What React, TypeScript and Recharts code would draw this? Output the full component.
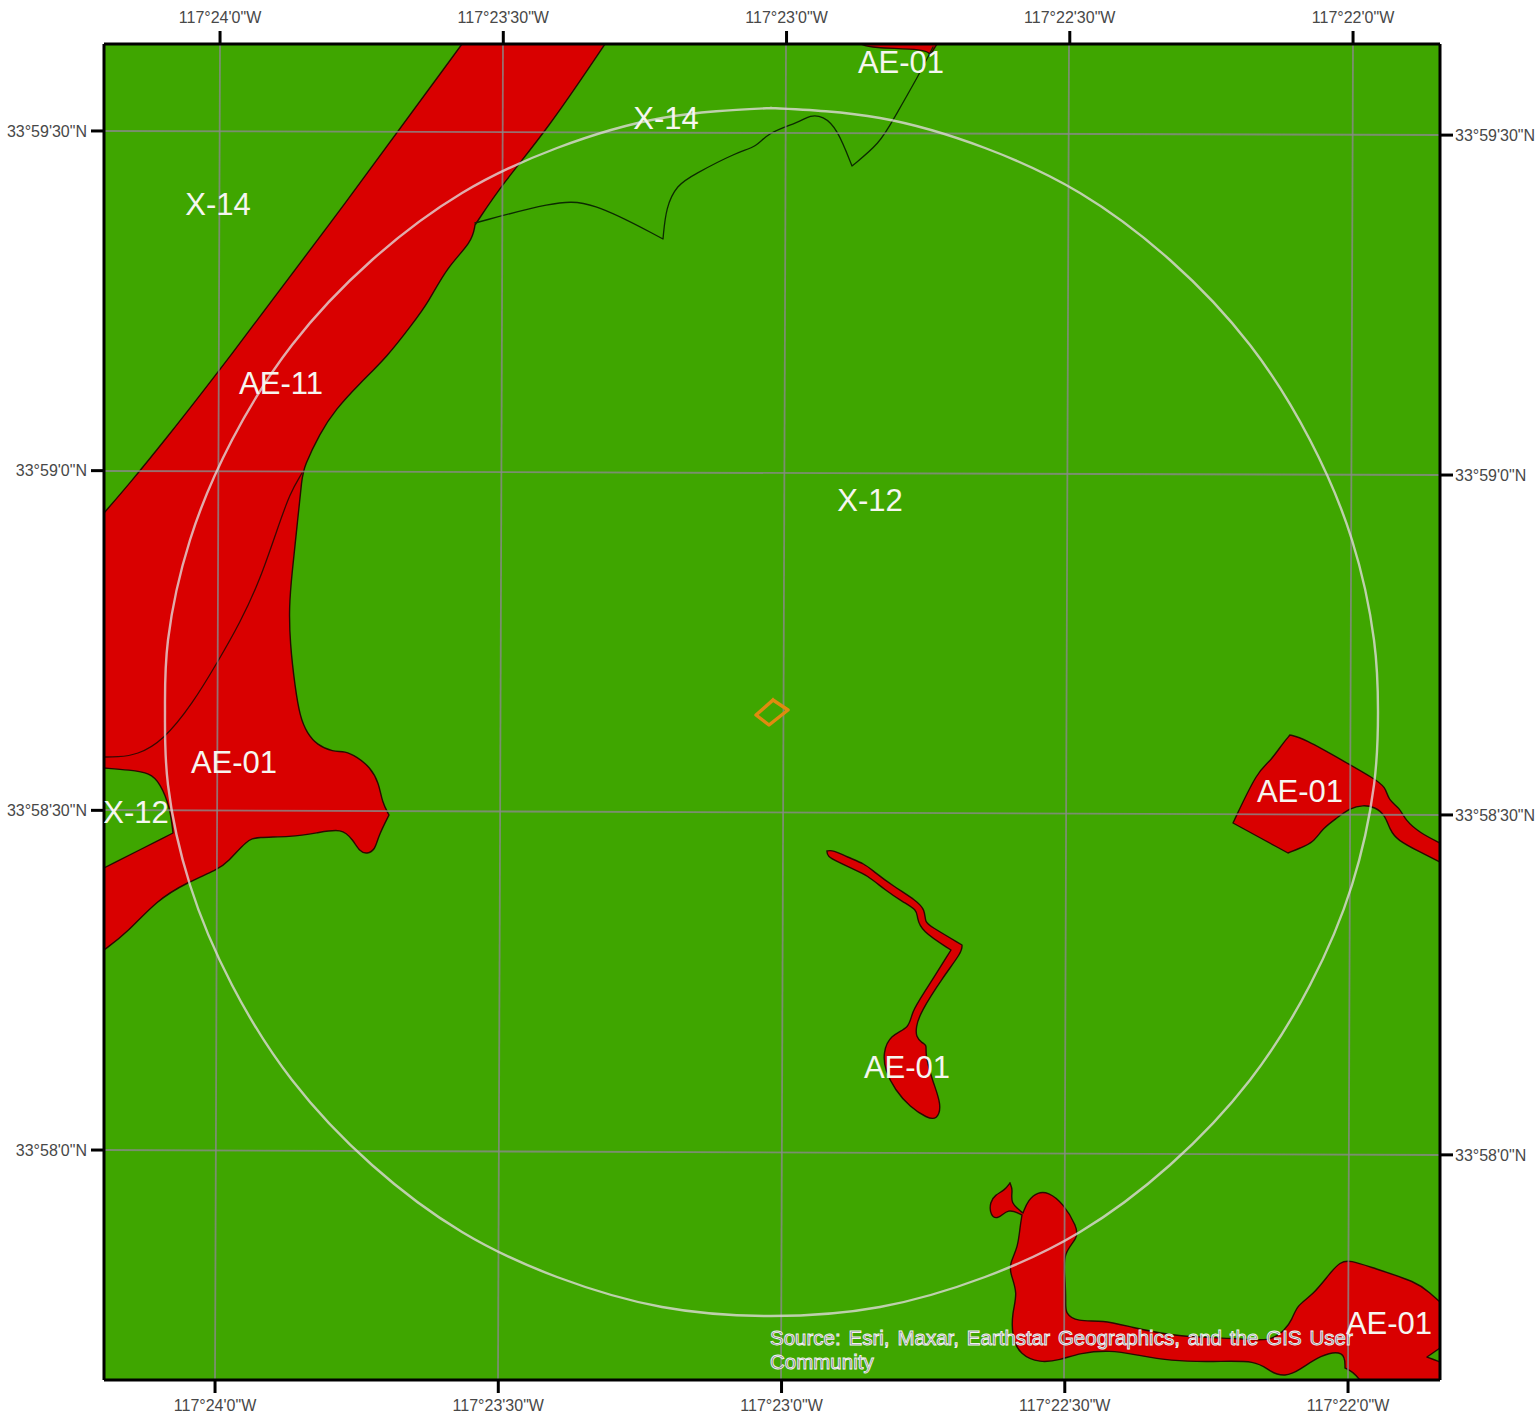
import React from "react";
import { ScatterChart, Scatter, XAxis, YAxis } from "recharts";

type Pt = [number, number];

// map-grid units
const mapXDomain: Pt = [104, 1440];
const mapYDomain: Pt = [44, 1380];

const background: Pt[] = [[104, 44], [1440, 44], [1440, 1380], [104, 1380], [104, 44]];

const westBand: Pt[] = [
  [462, 44], [348, 200], [220, 370], [165, 440], [130, 483], [104, 513], [104, 768], [130, 770], [150, 773], [160, 783], [170, 807], [173, 833],
  [104, 868], [104, 950], [127, 933], [157, 900], [188, 882], [217, 870], [228, 862], [247, 840], [257, 837], [290, 837], [317, 833], [342, 828],
  [353, 840], [360, 852], [367, 854], [375, 850], [378, 837], [389, 815], [382, 802], [379, 783], [370, 767], [357, 757], [345, 751], [333, 752],
  [317, 745], [307, 733], [300, 717], [295, 687], [290, 643], [289, 607], [292, 573], [297, 527], [302, 477], [304, 467], [320, 433], [335, 410],
  [360, 383], [387, 357], [413, 323], [428, 303], [447, 267], [472, 242], [475, 225], [503, 183], [547, 130], [605, 44], [462, 44],
];
const topPatch: Pt[] = [[861, 44], [870, 48], [927, 49], [930, 55], [937, 44], [861, 44]];
const eastPatch: Pt[] = [
  [1290, 735], [1303, 738], [1347, 763], [1373, 778], [1386, 787], [1388, 800], [1400, 808], [1405, 820], [1420, 833], [1440, 843], [1440, 862],
  [1420, 852], [1397, 840], [1390, 830], [1385, 815], [1375, 807], [1363, 805], [1350, 808], [1337, 818], [1323, 828], [1313, 843], [1300, 848],
  [1288, 853], [1233, 823], [1258, 770], [1270, 762], [1283, 743], [1290, 735],
];
const centerStream: Pt[] = [
  [827, 851], [833, 850], [847, 857], [865, 864], [873, 871], [893, 886], [917, 901], [925, 910], [925, 922], [930, 926], [962, 945], [962, 952],
  [943, 977], [920, 1013], [916, 1027], [916, 1037], [922, 1043], [927, 1045], [925, 1053], [932, 1080], [942, 1105], [937, 1120], [927, 1118],
  [910, 1107], [895, 1090], [885, 1070], [883, 1053], [890, 1035], [910, 1028], [911, 1013], [924, 993], [951, 950], [921, 931], [917, 917],
  [917, 910], [903, 902], [885, 890], [867, 875], [853, 869], [838, 862], [827, 856], [827, 851],
];
const southPatch: Pt[] = [
  [1010, 1183], [1013, 1190], [1010, 1203], [1023, 1213], [1028, 1200], [1038, 1192], [1048, 1192], [1063, 1203], [1077, 1227], [1078, 1238],
  [1063, 1253], [1065, 1277], [1066, 1303], [1065, 1313], [1077, 1322], [1103, 1320], [1130, 1327], [1177, 1337], [1237, 1338], [1270, 1342],
  [1285, 1330], [1292, 1320], [1297, 1305], [1313, 1295], [1330, 1273], [1340, 1262], [1350, 1260], [1373, 1268], [1417, 1282], [1430, 1293],
  [1440, 1302], [1440, 1348], [1427, 1357], [1440, 1362], [1440, 1380], [1360, 1380], [1353, 1372], [1345, 1368], [1345, 1350], [1320, 1355],
  [1300, 1370], [1285, 1377], [1270, 1372], [1257, 1360], [1213, 1362], [1170, 1361], [1137, 1355], [1110, 1350], [1080, 1353], [1060, 1360],
  [1040, 1363], [1020, 1355], [1012, 1337], [1012, 1313], [1018, 1293], [1010, 1273], [1010, 1263], [1018, 1247], [1020, 1227], [1022, 1215],
  [1008, 1208], [998, 1220], [990, 1215], [990, 1202], [995, 1195], [1005, 1190], [1010, 1183],
];
const northBoundary: Pt[] = [
  [475, 223], [553, 202], [590, 200], [663, 239], [666, 207], [677, 185], [693, 175], [737, 152], [757, 147], [767, 133], [800, 122], [810, 115],
  [823, 116], [837, 128], [852, 166], [880, 143], [893, 120], [920, 73], [933, 47],
];
const westBoundary: Pt[] = [
  [302, 473], [290, 493], [277, 530], [260, 580], [240, 623], [217, 663], [193, 703], [163, 741], [137, 755], [117, 757], [104, 757],
];
const siteOutline: Pt[] = [[773, 700], [788, 710], [769, 725], [756, 715], [773, 700]];

// vertices where an outline has a true corner
const sharpCorners: Pt[] = [
  [462, 44], [104, 513], [104, 768], [173, 833], [104, 868], [104, 950], [605, 44], [475, 225], [861, 44], [930, 55], [937, 44], [389, 815],
  [1440, 843], [1440, 862], [1233, 823], [1288, 853], [827, 851], [962, 945], [951, 950], [1440, 1302], [1440, 1348], [1427, 1357], [1440, 1362],
  [1440, 1380], [1360, 1380], [1345, 1368], [1010, 1183], [1023, 1213], [1022, 1215], [663, 239], [852, 166], [475, 223], [933, 47], [302, 473], [104, 757],
];

const meridians: Pt[][] = [
  [[220, 44], [215, 1380]], [[503, 44], [498, 1380]], [[786, 44], [781, 1380]], [[1069, 44], [1064, 1380]], [[1353, 44], [1348, 1380]],
];
const parallels: Pt[][] = [
  [[104, 131], [1440, 135]], [[104, 471], [1440, 475]], [[104, 810], [1440, 815]], [[104, 1150], [1440, 1155]],
];

const ring: Pt[] = [
  [771, 108], [880, 118], [985, 148], [1080, 193], [1170, 260], [1250, 345], [1310, 440], [1352, 540], [1374, 640], [1378, 712], [1374, 785],
  [1352, 885], [1310, 985], [1250, 1080], [1170, 1165], [1080, 1232], [985, 1277], [880, 1307], [771, 1316], [662, 1307], [557, 1277], [462, 1232],
  [372, 1165], [292, 1080], [232, 985], [190, 885], [168, 785], [165, 712], [168, 640], [190, 540], [232, 440], [292, 345], [372, 260], [462, 193],
  [557, 148], [662, 118], [771, 108],
];

const zoneLabels = [
  { x: 901, y: 62, name: "AE-01" }, { x: 666, y: 118, name: "X-14" }, { x: 218, y: 204, name: "X-14" }, { x: 281, y: 383, name: "AE-11" },
  { x: 870, y: 500, name: "X-12" }, { x: 234, y: 762, name: "AE-01" }, { x: 136, y: 812, name: "X-12" }, { x: 1300, y: 791, name: "AE-01" },
  { x: 907, y: 1067, name: "AE-01" }, { x: 1389, y: 1323, name: "AE-01" },
];
const creditLines = [
  { x: 770, y: 1337, name: "Source: Esri, Maxar, Earthstar Geographics, and the GIS User" },
  { x: 770, y: 1361, name: "Community" },
];

// signed seconds of longitude relative to 117°W, seconds of latitude north of 33°58'
const lonTicks = [-1440, -1410, -1380, -1350, -1320];
const lonLabels = ["117°24'0\"W", "117°23'30\"W", "117°23'0\"W", "117°22'30\"W", "117°22'0\"W"];
const latTicks = [90, 60, 30, 0];
const latLabels = ["33°59'30\"N", "33°59'0\"N", "33°58'30\"N", "33°58'0\"N"];
const topLonDomain: Pt = [-1452.29, -1310.79];
const bottomLonDomain: Pt = [-1451.76, -1310.26];
const leftLatDomain: Pt = [-20.31, 97.68];
const rightLatDomain: Pt = [-19.87, 98.04];

const GREEN = "#3fa600";
const RED = "#d90000";
const isSharp = (p: Pt) => sharpCorners.some((c) => c[0] === p[0] && c[1] === p[1]);
const toPts = (a: Pt[]) => a.map(([x, y]) => ({ x, y }));
const withCorners = (a: Pt[]) => a.flatMap((p) => (isSharp(p) ? [p, p, p] : [p]));
const none = () => null;
const lonAnchors = lonTicks.map((x) => ({ x, y: 0 }));

const lonFmt = (v: number) => lonLabels[lonTicks.indexOf(v)] ?? "";
const latFmt = (v: number) => latLabels[latTicks.indexOf(v)] ?? "";
const tickStyle = { fontFamily: "Liberation Sans", fontSize: 16, fill: "#484848" };
const axisLine = { stroke: "#000", strokeWidth: 3 };
const tickLine = { stroke: "#000", strokeWidth: 3 };

const mapProps = { xAxisId: "map", yAxisId: "map", isAnimationActive: false, shape: none } as const;

function poly(id: string, pts: Pt[], fill: string, stroke: string, strokeWidth: number, opacity = 1, joint: any = "linear") {
  return (
    <Scatter
      key={id}
      {...mapProps}
      data={toPts(joint === "basis" ? withCorners(pts) : pts)}
      lineJointType={joint}
      line={{ fill, stroke, strokeWidth, strokeOpacity: opacity, strokeLinejoin: "round", strokeLinecap: "square" }}
    />
  );
}

const ZoneText = (p: any) => (
  <text x={p.cx} y={p.cy} textAnchor="middle" dominantBaseline="central" fontFamily="Liberation Sans" fontSize={31} fill="#f6f6f0">
    {p.payload.name}
  </text>
);
const CreditText = (p: any) => (
  <text x={p.cx} y={p.cy} textAnchor="start" dominantBaseline="central" fontFamily="Liberation Sans" fontSize={20.5}
    fill="#70707e" stroke="#f2f2f2" strokeWidth={0.9} style={{ wordSpacing: 2.2 }}>
    {p.payload.name}
  </text>
);

export default function App() {
  return (
    <div style={{ position: "absolute", left: 0, top: 0, width: 1535, height: 1416, background: "#fff", overflow: "hidden" }}>
      <ScatterChart width={1535} height={1416} margin={{ top: 0, right: 0, bottom: 0, left: 0 }}>
        <XAxis xAxisId="map" dataKey="x" type="number" domain={mapXDomain} hide allowDataOverflow />
        <YAxis yAxisId="map" dataKey="y" type="number" domain={mapYDomain} reversed hide allowDataOverflow />
        <XAxis xAxisId="top" dataKey="x" orientation="top" type="number" height={44} domain={topLonDomain} ticks={lonTicks} interval={0}
          tickFormatter={lonFmt} tick={tickStyle} tickSize={13} tickMargin={8} axisLine={axisLine} tickLine={tickLine} allowDataOverflow />
        <XAxis xAxisId="bottom" dataKey="x" orientation="bottom" type="number" height={36} domain={bottomLonDomain} ticks={lonTicks} interval={0}
          tickFormatter={lonFmt} tick={tickStyle} tickSize={13} tickMargin={7} axisLine={axisLine} tickLine={tickLine} allowDataOverflow />
        <YAxis yAxisId="left" dataKey="y" orientation="left" type="number" width={104} domain={leftLatDomain} ticks={latTicks} interval={0}
          tickFormatter={latFmt} tick={tickStyle} tickSize={13} tickMargin={4} axisLine={axisLine} tickLine={tickLine} allowDataOverflow />
        <YAxis yAxisId="right" dataKey="y" orientation="right" type="number" width={95} domain={rightLatDomain} ticks={latTicks} interval={0}
          tickFormatter={latFmt} tick={tickStyle} tickSize={13} tickMargin={2} axisLine={axisLine} tickLine={tickLine} allowDataOverflow />
        <Scatter xAxisId="top" yAxisId="left" isAnimationActive={false} data={lonAnchors} shape={none} />
        <Scatter xAxisId="bottom" yAxisId="right" isAnimationActive={false} data={lonAnchors} shape={none} />
        {poly("bg", background, GREEN, "none", 0)}
        {poly("west", westBand, RED, "#2a0a00", 1.4, 1, "basis")}
        {poly("top", topPatch, RED, "#2a0a00", 1.4, 1, "basis")}
        {poly("east", eastPatch, RED, "#2a0a00", 1.4, 1, "basis")}
        {poly("center", centerStream, RED, "#2a0a00", 1.4, 1, "basis")}
        {poly("south", southPatch, RED, "#2a0a00", 1.4, 1, "basis")}
        {poly("nb", northBoundary, "none", "#0c2a00", 1.3, 1, "basis")}
        {poly("wb", westBoundary, "none", "#3a0800", 1.3, 1, "basis")}
        {meridians.map((m, i) => poly("m" + i, m, "none", "#8a8a8a", 1.8, 0.8))}
        {parallels.map((m, i) => poly("p" + i, m, "none", "#8a8a8a", 1.8, 0.8))}
        {poly("ring", ring, "none", "#e2dcdc", 2.4, 0.78, "natural")}
        {poly("site", siteOutline, "none", "#e08a10", 3.4)}
        {poly("frame", background, "none", "#000", 3)}
        <Scatter xAxisId="map" yAxisId="map" isAnimationActive={false} data={zoneLabels} shape={ZoneText} />
        <Scatter xAxisId="map" yAxisId="map" isAnimationActive={false} data={creditLines} shape={CreditText} />
      </ScatterChart>
    </div>
  );
}
